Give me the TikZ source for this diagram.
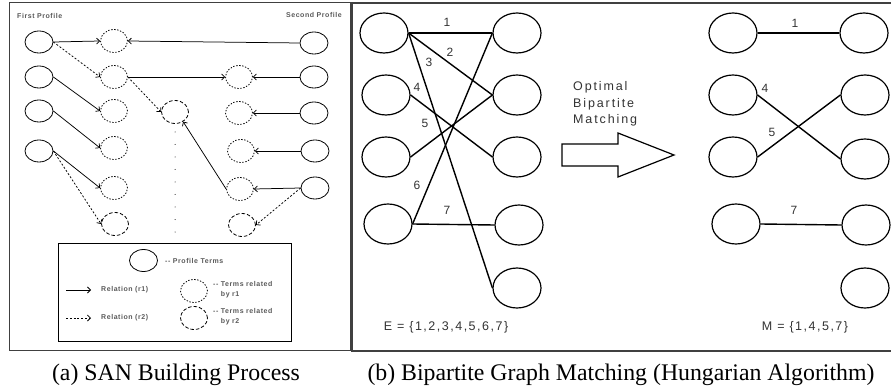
\documentclass[tikz,border=0pt]{standalone}
\usepackage{fontspec}
\setmainfont{Liberation Serif}
\newfontfamily\smallsans[LetterSpace=8]{Liberation Sans}
\newfontfamily\labsans{Liberation Sans}
\newfontfamily\optsans[LetterSpace=15]{Liberation Sans}
\newfontfamily\setsans[LetterSpace=12]{Liberation Sans}
\usetikzlibrary{shapes.geometric,arrows.meta}
\begin{document}
\begin{tikzpicture}[x=1pt,y=-1pt,
  term/.style={ellipse,draw,line width=0.8pt,minimum width=28pt,minimum height=22pt,inner sep=0pt},
  rone/.style={ellipse,draw,line width=0.8pt,dash pattern=on 1.4pt off 1.6pt,minimum width=27pt,minimum height=23pt,inner sep=0pt},
  rtwo/.style={ellipse,draw,line width=0.8pt,dash pattern=on 3.5pt off 2pt,minimum width=27pt,minimum height=23pt,inner sep=0pt},
  relone/.style={draw,line width=0.75pt,-{Straight Barb[length=3pt,width=6pt]}},
  reltwo/.style={relone,dash pattern=on 2pt off 1.8pt},
  small/.style={font=\smallsans\fontsize{7}{10}\selectfont\bfseries,text=black!65,inner sep=0pt},
  bnode/.style={ellipse,draw,line width=1.2pt,minimum width=48pt,minimum height=40pt,inner sep=0pt},
  bedge/.style={draw,line width=1.4pt},
  elabel/.style={font=\labsans\fontsize{12}{12}\selectfont,text=black!80,inner sep=0pt},
  settext/.style={font=\setsans\fontsize{12.5}{12.5}\selectfont,text=black!80,inner sep=0pt},
  opttext/.style={font=\optsans\fontsize{12.5}{12.5}\selectfont,text=black!80,inner sep=0pt,anchor=base west},
  caption/.style={font=\fontsize{23.8}{26}\selectfont,inner sep=0pt,anchor=base},
  frame/.style={draw=black!75,line width=1pt}
]
\useasboundingbox (0,0) rectangle (891,390);
% ---------- panel (a) ----------
\draw[frame] (9,3) rectangle (350,350);
\node[small,anchor=west] (a-first) at (17,16) {First Profile};
\node[small,anchor=east] (a-second) at (342,15) {Second Profile};
% profile terms
\node[term] (a-L1) at (39,42) {};
\node[term] (a-L2) at (39,77) {};
\node[term] (a-L3) at (39,111) {};
\node[term] (a-L4) at (39,151) {};
\node[term] (a-R1) at (314,43) {};
\node[term] (a-R2) at (314,77) {};
\node[term] (a-R3) at (314,113) {};
\node[term] (a-R4) at (315,151) {};
\node[term] (a-R5) at (315,188) {};
% related terms
\node[rone] (a-D1) at (114,41) {};
\node[rone] (a-D2) at (114,77) {};
\node[rone] (a-D3) at (114,111) {};
\node[rone] (a-D4) at (114,148) {};
\node[rone] (a-D5) at (114,188) {};
\node[rtwo] (a-D6) at (115,224) {};
\node[rtwo] (a-M) at (175,112) {};
\node[rone] (a-E2) at (239,77) {};
\node[rone] (a-E3) at (239,113) {};
\node[rone] (a-E4) at (241,151) {};
\node[rone] (a-E5) at (240,189) {};
\node[rtwo] (a-E6) at (242,225) {};
% relations
\draw[relone] (a-L1.east) -- (a-D1.west);
\draw[relone] (a-R1.west) -- (a-D1.east);
\draw[reltwo] (a-L1.east) -- (a-D2.west);
\draw[relone] (a-D2.east) -- (a-E2.west);
\draw[relone] (a-R2.west) -- (a-E2.east);
\draw[reltwo] (a-D2.east) -- (a-M.west);
\draw[relone] (a-L2.east) -- (a-D3.west);
\draw[relone] (a-R3.west) -- (a-E3.east);
\draw[relone] (a-L3.east) -- (a-D4.west);
\draw[relone] (a-R4.west) -- (a-E4.east);
\draw[relone] (a-L4.east) -- (a-D5.west);
\draw[reltwo] (a-L4.east) -- (a-D6.west);
\draw[relone] (a-R5.west) -- (a-E5.east);
\draw[reltwo] (a-R5.west) -- (a-E6.east);
\draw[relone] (a-E5.west) -- (a-M.-50);
% dotted column
\foreach \k in {0,...,8} \fill (175,132+12.5*\k) circle (0.5pt);
% legend
\draw[line width=1pt] (58,243) rectangle (291,341);
\node[term] (lg-term) at (143.5,260.5) {};
\node[small,anchor=west] (lg-term-t) at (165,261) {-{}- Profile Terms};
\coordinate (lg-a1s) at (66,290);
\coordinate (lg-a1e) at (91,290);
\draw[relone] (lg-a1s) -- (lg-a1e);
\node[small,anchor=west] (lg-r1-t) at (101,290) {Relation (r1)};
\coordinate (lg-a2s) at (66,318);
\coordinate (lg-a2e) at (91,318);
\draw[reltwo] (lg-a2s) -- (lg-a2e);
\node[small,anchor=west] (lg-r2-t) at (101,318) {Relation (r2)};
\node[rone] (lg-rone) at (194,291) {};
\node[small,anchor=west,align=left] (lg-rone-t) at (213,289.5) {-{}- Terms related\\[0pt]\phantom{-{}- }by r1};
\node[rtwo] (lg-rtwo) at (194,318) {};
\node[small,anchor=west,align=left] (lg-rtwo-t) at (213,317) {-{}- Terms related\\[0pt]\phantom{-{}- }by r2};
\node[caption] (cap-a) at (176,380) {(a) SAN Building Process};
% ---------- panel (b) ----------
\draw[frame,line width=1.5pt] (892,3) -- (352,3) -- (352,351) -- (892,351);
\node[bnode] (b-L1) at (384,33) {};
\node[bnode] (b-L2) at (386,95) {};
\node[bnode] (b-L3) at (386,157) {};
\node[bnode] (b-L4) at (388,224) {};
\node[bnode] (b-R1) at (517,33) {};
\node[bnode] (b-R2) at (517,95) {};
\node[bnode] (b-R3) at (517,157) {};
\node[bnode] (b-R4) at (519,225) {};
\node[bnode] (b-R5) at (517,288) {};
\draw[bedge] (b-L1.east) -- (b-R1.west);
\draw[bedge] (b-L1.east) -- (b-R2.west);
\draw[bedge] (b-L1.east) -- (b-R5.west);
\draw[bedge] (b-L2.east) -- (b-R3.west);
\draw[bedge] (b-L3.east) -- (b-R2.west);
\draw[bedge] (b-L4.east) -- (b-R1.west);
\draw[bedge] (b-L4.east) -- (b-R4.west);
\node[elabel] (b-l1) at (447,22) {1};
\node[elabel] (b-l2) at (450,52) {2};
\node[elabel] (b-l3) at (429,62) {3};
\node[elabel] (b-l4) at (417,87) {4};
\node[elabel] (b-l5) at (425,123) {5};
\node[elabel] (b-l6) at (417,185) {6};
\node[elabel] (b-l7) at (447,210) {7};
\node[settext] (b-set) at (446,327) {E = \{1,2,3,4,5,6,7\}};
% arrow
\node[opttext] (b-opt1) at (573,90.5) {Optimal};
\node[opttext] (b-opt2) at (573,107.5) {Bipartite};
\node[opttext] (b-opt3) at (573,124) {Matching};
\draw[line width=1.2pt,line join=miter] (562,144) -- (618,144) -- (618,133) -- (674,155) -- (618,177) -- (618,166) -- (562,166) -- cycle;
% matching result
\node[bnode] (c-L1) at (733,33) {};
\node[bnode] (c-L2) at (733,95) {};
\node[bnode] (c-L3) at (733,157) {};
\node[bnode] (c-L4) at (736,224) {};
\node[bnode] (c-R1) at (864,33) {};
\node[bnode] (c-R2) at (865,95) {};
\node[bnode] (c-R3) at (865,159) {};
\node[bnode] (c-R4) at (866,225) {};
\node[bnode] (c-R5) at (865,288) {};
\draw[bedge] (c-L1.east) -- (c-R1.west);
\draw[bedge] (c-L2.east) -- (c-R3.west);
\draw[bedge] (c-L3.east) -- (c-R2.west);
\draw[bedge] (c-L4.east) -- (c-R4.west);
\node[elabel] (c-l1) at (795,23) {1};
\node[elabel] (c-l4) at (765,88) {4};
\node[elabel] (c-l5) at (772,132) {5};
\node[elabel] (c-l7) at (794,210) {7};
\node[settext] (c-set) at (805,327) {M = \{1,4,5,7\}};
\node[caption] (cap-b) at (621,380) {(b) Bipartite Graph Matching (Hungarian Algorithm)};
\end{tikzpicture}
\end{document}
